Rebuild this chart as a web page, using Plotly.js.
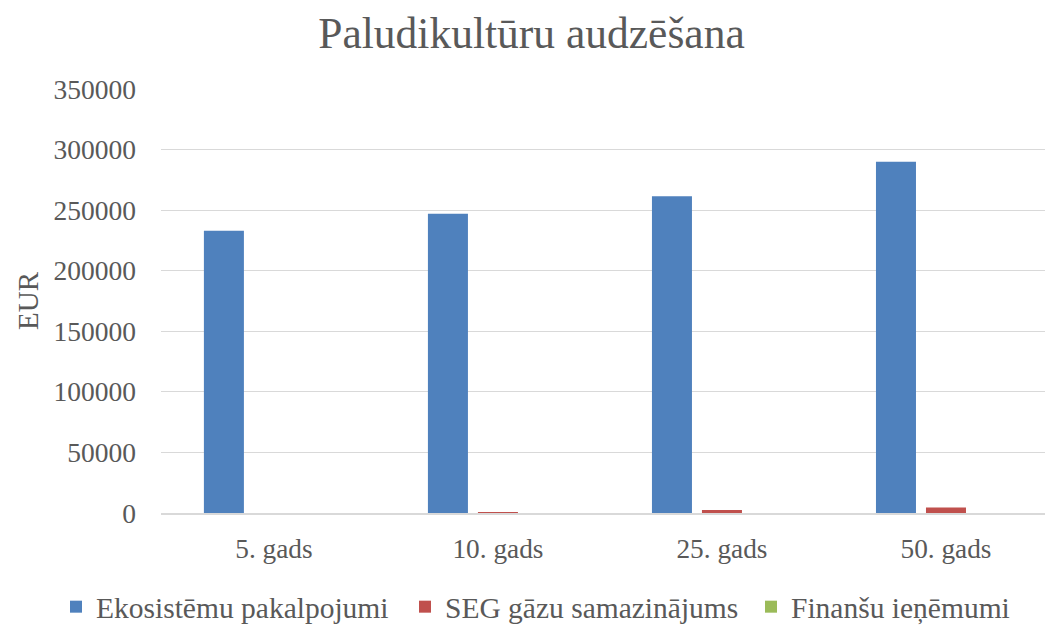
<!DOCTYPE html>
<html>
<head>
<meta charset="utf-8">
<script src="https://cdn.plot.ly/plotly-3.0.1.min.js"></script>
<style>html,body{margin:0;padding:0;background:#fff;}#chart{width:1045px;height:625px;}</style>
</head>
<body>
<div id="chart"></div>
<script>
const categories = ["5. gads", "10. gads", "25. gads", "50. gads"];
const seriesNames = ["Ekosistēmu pakalpojumi", "SEG gāzu samazinājums", "Finanšu ieņēmumi"];
const ekosistemas = [233000, 247000, 261500, 290000];
const segGazes = [100, 800, 2500, 4600];
const finansu = [20, 20, 20, 20];
const yTicks = [0, 50000, 100000, 150000, 200000, 250000, 300000, 350000];

const colors = ["#4f81bd", "#c0504d", "#9bbb59"];
const offsets = [-0.3125, -0.0893, 0.134];
const values = [ekosistemas, segGazes, finansu];
const legendIds = ["legend", "legend2", "legend3"];
const legendX = [56, 405, 751];
const FONT = "'Liberation Serif', 'Times New Roman', serif";

const traces = values.map((v, i) => ({
  type: "bar",
  name: seriesNames[i],
  x: categories,
  y: v,
  marker: {color: colors[i]},
  width: 0.1786,
  offset: offsets[i],
  legend: legendIds[i]
}));

const layout = {
  width: 1045, height: 625,
  margin: {l: 161, r: 0, t: 89, b: 112, autoexpand: false},
  paper_bgcolor: "#fff", plot_bgcolor: "#fff",
  barmode: "overlay",
  font: {family: FONT, color: "#595959", size: 27},
  title: {text: "Paludikultūru audzēšana", font: {family: FONT, size: 43.5, color: "#595959"}, x: 0.5086, xanchor: "center", y: 0.948, yanchor: "middle"},
  xaxis: {
    type: "category",
    range: [-0.504, 3.442],
    showgrid: false,
    showline: true, linecolor: "#d9d9d9", linewidth: 2,
    ticks: "", ticklen: 0, ticklabelstandoff: 10,
    tickfont: {family: FONT, size: 27.3, color: "#595959"},
    zeroline: false
  },
  yaxis: {
    range: [0, 350000],
    tickvals: yTicks,
    ticktext: yTicks.map(String),
    showgrid: true, gridcolor: "#d9d9d9", gridwidth: 1,
    zeroline: false, showline: false,
    ticks: "", ticklabelstandoff: 24,
    tickfont: {family: FONT, size: 27.5, color: "#595959"},
    title: {text: "EUR", font: {family: FONT, size: 29, color: "#595959"}, standoff: 6}
  },
  showlegend: true
};

legendIds.forEach((id, i) => {
  layout[id] = {orientation: "h", xref: "container", yref: "container",
    x: legendX[i] / 1045, xanchor: "left", y: 1 - 607 / 625, yanchor: "middle",
    font: {family: FONT, size: 29.5, color: "#595959"}, itemwidth: 30, bgcolor: "rgba(0,0,0,0)"};
});

Plotly.newPlot("chart", traces, layout, {displayModeBar: false, staticPlot: true});
</script>
</body>
</html>
